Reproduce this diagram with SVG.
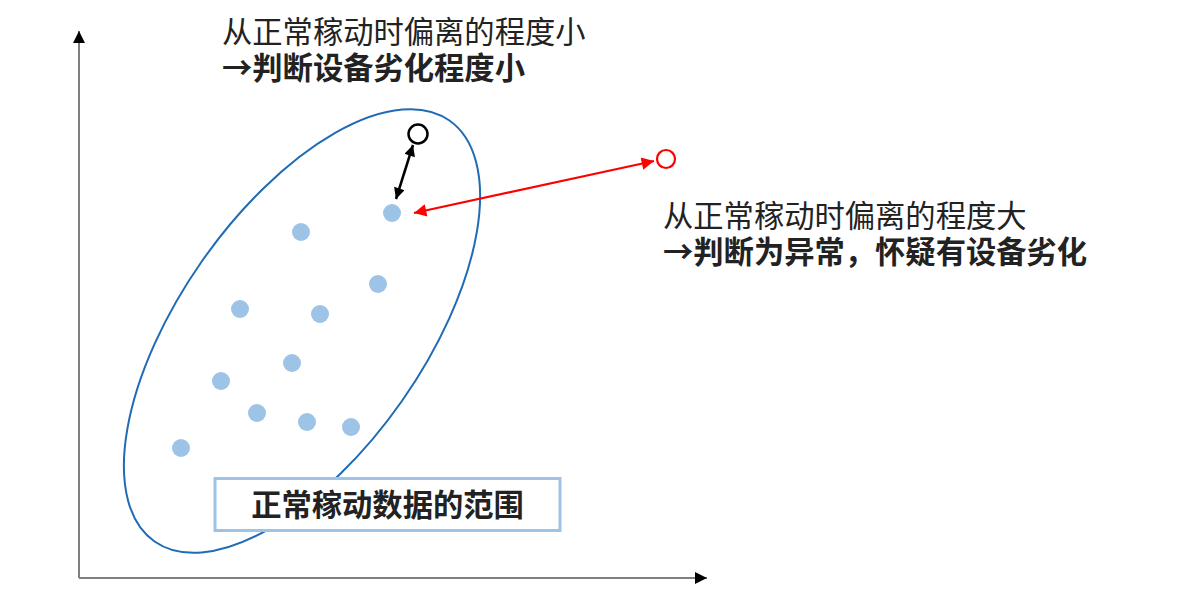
<svg xmlns="http://www.w3.org/2000/svg" width="1200" height="600" viewBox="0 0 1200 600">
<defs>
<style>
.t{font-family:"Noto Sans CJK SC","Noto Sans",sans-serif;font-size:30.3px;fill:#222}
.b{font-weight:bold}
.dot{fill:#9dc3e6}
.axis{stroke:#7f7f7f;stroke-width:2;fill:none}
</style>
<marker id="ah" viewBox="0 0 10 10" refX="10" refY="5" markerWidth="13" markerHeight="12" markerUnits="userSpaceOnUse" orient="auto-start-reverse"><path d="M0,0L10,5L0,10z" fill="#000"/></marker>
<marker id="ab" viewBox="0 0 10 10" refX="10" refY="5" markerWidth="5" markerHeight="4.4" orient="auto-start-reverse"><path d="M0,0L10,5L0,10z" fill="#000"/></marker>
<marker id="ar" viewBox="0 0 10 10" refX="10" refY="5" markerWidth="7" markerHeight="5.6" orient="auto-start-reverse"><path d="M0,0L10,5L0,10z" fill="#ff0000"/></marker>
</defs>
<rect width="1200" height="600" fill="#fff"/>
<g id="axes">
<line class="axis" x1="79" y1="578" x2="79" y2="31" marker-end="url(#ah)"/>
<line class="axis" x1="79" y1="578" x2="707" y2="578" marker-end="url(#ah)"/>
</g>
<g id="normal-range">
<ellipse cx="302" cy="331" rx="257" ry="122" transform="rotate(-55 302 331)" fill="none" stroke="#1f6bb5" stroke-width="2"/>
</g>
<g id="points">
<circle class="dot" cx="392" cy="213" r="9"/>
<circle class="dot" cx="301" cy="232" r="9"/>
<circle class="dot" cx="378" cy="284" r="9"/>
<circle class="dot" cx="240" cy="309" r="9"/>
<circle class="dot" cx="320" cy="314" r="9"/>
<circle class="dot" cx="292" cy="363" r="9"/>
<circle class="dot" cx="221" cy="381" r="9"/>
<circle class="dot" cx="257" cy="413" r="9"/>
<circle class="dot" cx="307" cy="422" r="9"/>
<circle class="dot" cx="351" cy="427" r="9"/>
<circle class="dot" cx="181" cy="448" r="9"/>
</g>
<g id="small-deviation-point">
<circle cx="418" cy="134" r="9.5" fill="#fff" stroke="#000" stroke-width="2.5"/>
</g>
<g id="large-deviation-point">
<circle cx="666" cy="159" r="9" fill="#fff" stroke="#ff0000" stroke-width="2.2"/>
</g>
<g id="connectors">
<line x1="413" y1="145" x2="396" y2="199" stroke="#000" stroke-width="2.5" marker-start="url(#ab)" marker-end="url(#ab)"/>
<line x1="654" y1="161" x2="414" y2="213" stroke="#ff0000" stroke-width="2.2" marker-start="url(#ar)" marker-end="url(#ar)"/>
</g>
<g id="label-box">
<rect x="215" y="478.5" width="345" height="52" fill="#fff" stroke="#9dc3e6" stroke-width="3"/>
<text class="t b" x="387.5" y="516" text-anchor="middle">正常稼动数据的范围</text>
</g>
<g id="text-small">
<text class="t" x="222" y="43">从正常稼动时偏离的程度小</text>
<text class="t b" x="222" y="79">→判断设备劣化程度小</text>
</g>
<g id="text-large">
<text class="t" x="663" y="227">从正常稼动时偏离的程度大</text>
<text class="t b" x="663" y="263">→判断为异常，怀疑有设备劣化</text>
</g>
</svg>
